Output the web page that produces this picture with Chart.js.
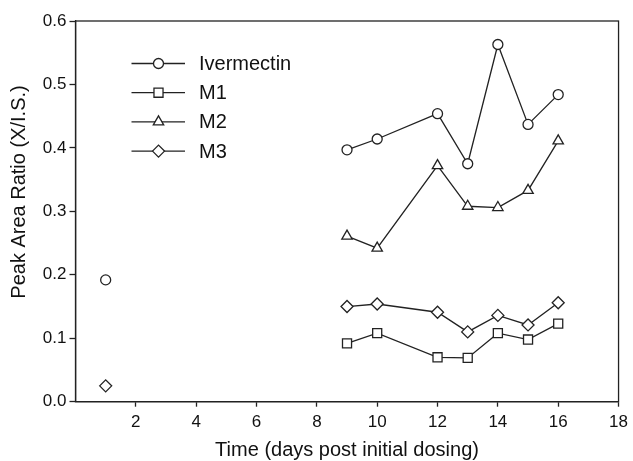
<!DOCTYPE html>
<html>
<head>
<meta charset="utf-8">
<script src="https://cdn.jsdelivr.net/npm/chart.js@4"></script>
<style>
  html, body { margin: 0; padding: 0; background: #fff; }
</style>
</head>
<body>
<canvas id="ratioChart" width="633" height="461"></canvas>
<script>
// sampling days and peak area ratios (X / internal standard)
const days = [1, 9, 10, 12, 13, 14, 15, 16]
const ivermectin = [0.192, 0.397, 0.414, 0.454, 0.375, 0.563, 0.437, 0.484]
const m1 = [null, 0.092, 0.108, 0.070, 0.069, 0.108, 0.098, 0.123]
const m2 = [null, 0.261, 0.242, 0.372, 0.308, 0.306, 0.333, 0.411]
const m3 = [0.025, 0.150, 0.154, 0.141, 0.110, 0.136, 0.121, 0.156]

const seriesNames = ['Ivermectin', 'M1', 'M2', 'M3']
const yTicks = [0, 0.1, 0.2, 0.3, 0.4, 0.5, 0.6]
const xTicks = [2, 4, 6, 8, 10, 12, 14, 16, 18]

const ink = '#222'
const fontFamily = '"Liberation Sans", Arial, Helvetica, sans-serif'

function makeSet(name, values, style, radius) {
  return {
    label: name,
    data: days.map((d, i) => ({x: d, y: values[i]})),
    borderColor: ink,
    borderWidth: 1.3,
    pointStyle: style,
    pointRadius: radius,
    pointHoverRadius: radius,
    pointBackgroundColor: '#fff',
    pointBorderColor: ink,
    pointBorderWidth: 1.3,
    spanGaps: false,
    // no line between day 1 and day 9
    segment: {
      borderColor: ctx => (ctx.p1.parsed.x - ctx.p0.parsed.x > 3 ? 'transparent' : ink)
    },
    clip: false
  }
}

// frame round the plot, the legend block and the y axis title
const decorations = {
  id: 'decorations',
  afterDatasetsDraw(chart) {
    const {ctx, chartArea} = chart
    ctx.save()
    ctx.strokeStyle = ink
    ctx.lineWidth = 1.3
    ctx.strokeRect(chartArea.left, chartArea.top,
      chartArea.right - chartArea.left, chartArea.bottom - chartArea.top)

    // legend
    ctx.font = '20px ' + fontFamily
    ctx.fillStyle = '#111'
    ctx.textBaseline = 'middle'
    ctx.textAlign = 'left'
    chart.data.datasets.forEach((ds, i) => {
      const y = 63.5 + i * 29.2
      ctx.strokeStyle = ink
      ctx.lineWidth = 1.3
      ctx.beginPath()
      ctx.moveTo(131.5, y)
      ctx.lineTo(185, y)
      ctx.stroke()
      ctx.fillStyle = '#fff'
      Chart.helpers.drawPoint(ctx, {
        pointStyle: ds.pointStyle, radius: ds.pointRadius,
        borderWidth: 1.3, rotation: 0
      }, 158.5, y)
      ctx.fillStyle = '#111'
      ctx.fillText(ds.label, 199, y + 1)
    })

    // y title
    ctx.translate(19, 192)
    ctx.rotate(-Math.PI / 2)
    ctx.textAlign = 'center'
    ctx.fillText('Peak Area Ratio (X/I.S.)', 0, 0)
    ctx.restore()
  }
}

const context = document.getElementById('ratioChart')

new Chart(context, {
  type: 'line',
  data: {
    datasets: [
      makeSet(seriesNames[0], ivermectin, 'circle', 5),
      makeSet(seriesNames[1], m1, 'rect', 6.4),
      makeSet(seriesNames[2], m2, 'triangle', 6),
      makeSet(seriesNames[3], m3, 'rectRot', 6)
    ]
  },
  options: {
    responsive: false,
    animation: false,
    devicePixelRatio: 1,
    layout: {padding: {left: 0, top: 21, right: 11.5, bottom: 0}},
    plugins: {legend: {display: false}, tooltip: {enabled: false}},
    scales: {
      x: {
        type: 'linear',
        min: 0, max: 18,
        afterBuildTicks: s => { s.ticks = xTicks.map(v => ({value: v})) },
        afterFit: s => { s.height = 59.3 },
        ticks: {color: '#111', font: {family: fontFamily, size: 17}, padding: 5,
          maxRotation: 0, autoSkip: false},
        grid: {drawOnChartArea: false, tickLength: 5, tickColor: ink, tickWidth: 1.3},
        border: {color: ink, width: 1.3},
        title: {display: true, text: 'Time (days post initial dosing)', color: '#111',
          font: {family: fontFamily, size: 20}, padding: {top: 0, bottom: -1}}
      },
      y: {
        min: 0, max: 0.6,
        afterBuildTicks: s => { s.ticks = yTicks.map(v => ({value: v})) },
        afterFit: s => { s.width = 75.5 },
        ticks: {color: '#111', font: {family: fontFamily, size: 17}, padding: 3,
          callback: v => v.toFixed(1)},
        grid: {drawOnChartArea: false, tickLength: 6, tickColor: ink, tickWidth: 1.3},
        border: {color: ink, width: 1.3}
      }
    }
  },
  plugins: [decorations]
})
</script>
</body>
</html>
